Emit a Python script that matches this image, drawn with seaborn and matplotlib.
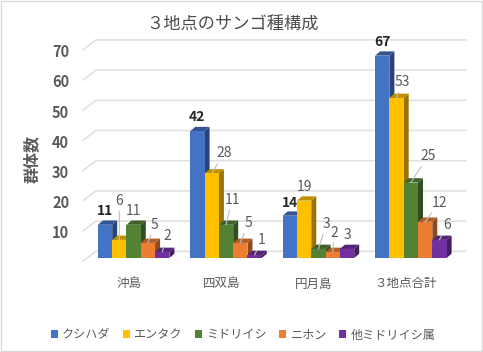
import matplotlib
matplotlib.use('Agg')
import matplotlib.pyplot as plt
import matplotlib.transforms as mtrans
from matplotlib.patches import Polygon, Rectangle
from matplotlib.colors import to_rgb
import pandas as pd
import seaborn as sns

# データ
sites = ['沖島', '四双島', '円月島', '３地点合計']
species = ['クシハダ', 'エンタク', 'ミドリイシ', 'ニホン', '他ミドリイシ属']
kushihada = [11, 42, 14, 67]
entaku = [6, 28, 19, 53]
midoriishi = [11, 11, 3, 25]
nihon = [5, 5, 2, 12]
other = [2, 1, 3, 6]
yticks = [10, 20, 30, 40, 50, 60, 70]

colors = ['#4472C4', '#FFC000', '#548235', '#ED7D31', '#7030A0']

# ラベル位置 (棒の上端中央からのピクセル差)
label_offsets = [
    [(0, 14), (0, 39), (0, 14), (7, 18), (5, 16)],
    [(0, 14), (12, 20), (6, 25), (8, 20), (7, 15)],
    [(0, 13), (0, 14), (8, 25), (2, 19), (0, 14)],
    [(0, 14), (6, 16), (17, 26), (14, 19), (8, 15)],
]
leaders = [
    [0, 1, 0, 1, 1],
    [0, 1, 1, 1, 1],
    [0, 0, 1, 1, 0],
    [0, 1, 1, 1, 1],
]

W, H = 483, 352
df = pd.DataFrame({'site': sites * 5,
                   'species': [s for s in species for _ in sites],
                   'count': kushihada + entaku + midoriishi + nihon + other})

sns.set_theme(style='white')
plt.rcParams['font.family'] = ['Noto Sans CJK JP', 'DejaVu Sans']

fig = plt.figure(figsize=(W / 100, H / 100), dpi=100, facecolor='white')
ax = fig.add_axes([83 / W, 1 - 258 / H, 383 / W, 223 / H])
ax.patch.set_alpha(0)

sns.barplot(data=df, x='site', y='count', hue='species', order=sites, hue_order=species,
            palette=colors, width=0.774, saturation=1, errorbar=None, ax=ax,
            edgecolor='none', linewidth=0)

px_x = 92.4          # 1カテゴリのピクセル幅
px_y = 3.02          # 1単位のピクセル高さ
ax.set_xlim(-0.548, -0.548 + 383 / px_x)
ax.set_ylim(0, 223 / px_y)
sns.despine(ax=ax, left=True, bottom=True)

# 背面の目盛線
trans = mtrans.blended_transform_factory(ax.transAxes, ax.transData)
for v in [0] + yticks:
    ax.plot([0, 13 / 383, 1],
            [v - 3.2 / px_y, v + 6.7 / px_y, v + 6.7 / px_y],
            transform=trans, color='#e1e1e1', lw=1.2, clip_on=False, zorder=1)

# 3D風の側面と上面
dx = 5 / px_x
dy = 4.3 / px_y
bars = [p for p in ax.patches if p.get_height() > 0]
bars = sorted(bars, key=lambda p: p.get_x())
for i, p in enumerate(bars):
    x0, x1, h = p.get_x(), p.get_x() + p.get_width(), p.get_height()
    p.set_zorder(30)
    r, g, b = to_rgb(p.get_facecolor()[:3])
    side = (r * 0.6, g * 0.6, b * 0.6)
    top = (r * 0.75, g * 0.75, b * 0.75)
    ax.add_patch(Polygon([(x1, 0), (x1 + dx, dy), (x1 + dx, h + dy), (x1, h)],
                         facecolor=side, edgecolor='none', clip_on=False, zorder=3 + i * 0.1))
    ax.add_patch(Polygon([(x0, h), (x1, h), (x1 + dx, h + dy), (x0 + dx, h + dy)],
                         facecolor=top, edgecolor='none', clip_on=False, zorder=3 + i * 0.1))

# データラベル
for i, p in enumerate(bars):
    g = i // 5
    s = i % 5
    cx = p.get_x() + p.get_width() / 2
    props = None
    if leaders[g][s]:
        props = dict(arrowstyle='-', color='#bfbfbf', lw=0.8, shrinkA=0, shrinkB=0)
    ax.annotate(str(int(p.get_height())), xy=(cx, p.get_height()),
                xytext=label_offsets[g][s], textcoords='offset pixels',
                ha='center', va='center', fontsize=10,
                fontweight='bold' if s == 0 else 'normal',
                color='#262626' if s == 0 else '#595959',
                arrowprops=props, annotation_clip=False, zorder=60)

# 軸
ax.set_yticks(yticks)
ax.set_yticklabels([str(v) for v in yticks], fontsize=10.5, fontweight='bold', color='#595959')
ax.tick_params(axis='y', length=0, pad=10)
ax.tick_params(axis='x', length=0, pad=14, labelsize=9, labelcolor='#595959')
shift_y = mtrans.ScaledTranslation(0, -3 / 72, fig.dpi_scale_trans)
shift_x = mtrans.ScaledTranslation(-3.5 / 72, 0, fig.dpi_scale_trans)
for lab in ax.get_yticklabels():
    lab.set_transform(lab.get_transform() + shift_y)
for lab in ax.get_xticklabels():
    lab.set_transform(lab.get_transform() + shift_x)
ax.set_xlabel('')
ax.set_ylabel('')

fig.text(233 / W, 1 - 25 / H, '３地点のサンゴ種構成', ha='center', va='center',
         fontsize=12.4, color='#4d4d4d')
fig.text(32 / W, 1 - 159 / H, '群体数', rotation=90, ha='center', va='center',
         fontsize=11.5, fontweight='bold', color='#595959')

handles, labels = ax.get_legend_handles_labels()
ax.legend(handles, labels, ncol=5, frameon=False, loc='center',
          bbox_to_anchor=(243 / W, 1 - 335 / H), bbox_transform=fig.transFigure,
          prop={'size': 8.7}, labelcolor='#595959',
          handlelength=0.6, handleheight=0.6, handletextpad=0.35,
          columnspacing=1.0, borderpad=0, borderaxespad=0)

# 外枠
fig.add_artist(Rectangle((0.5 / W, 1 - 351 / H), 481 / W, 350.5 / H, transform=fig.transFigure,
                         fill=False, edgecolor='#d9d9d9', lw=1))

fig.savefig('out.png', dpi=100)
